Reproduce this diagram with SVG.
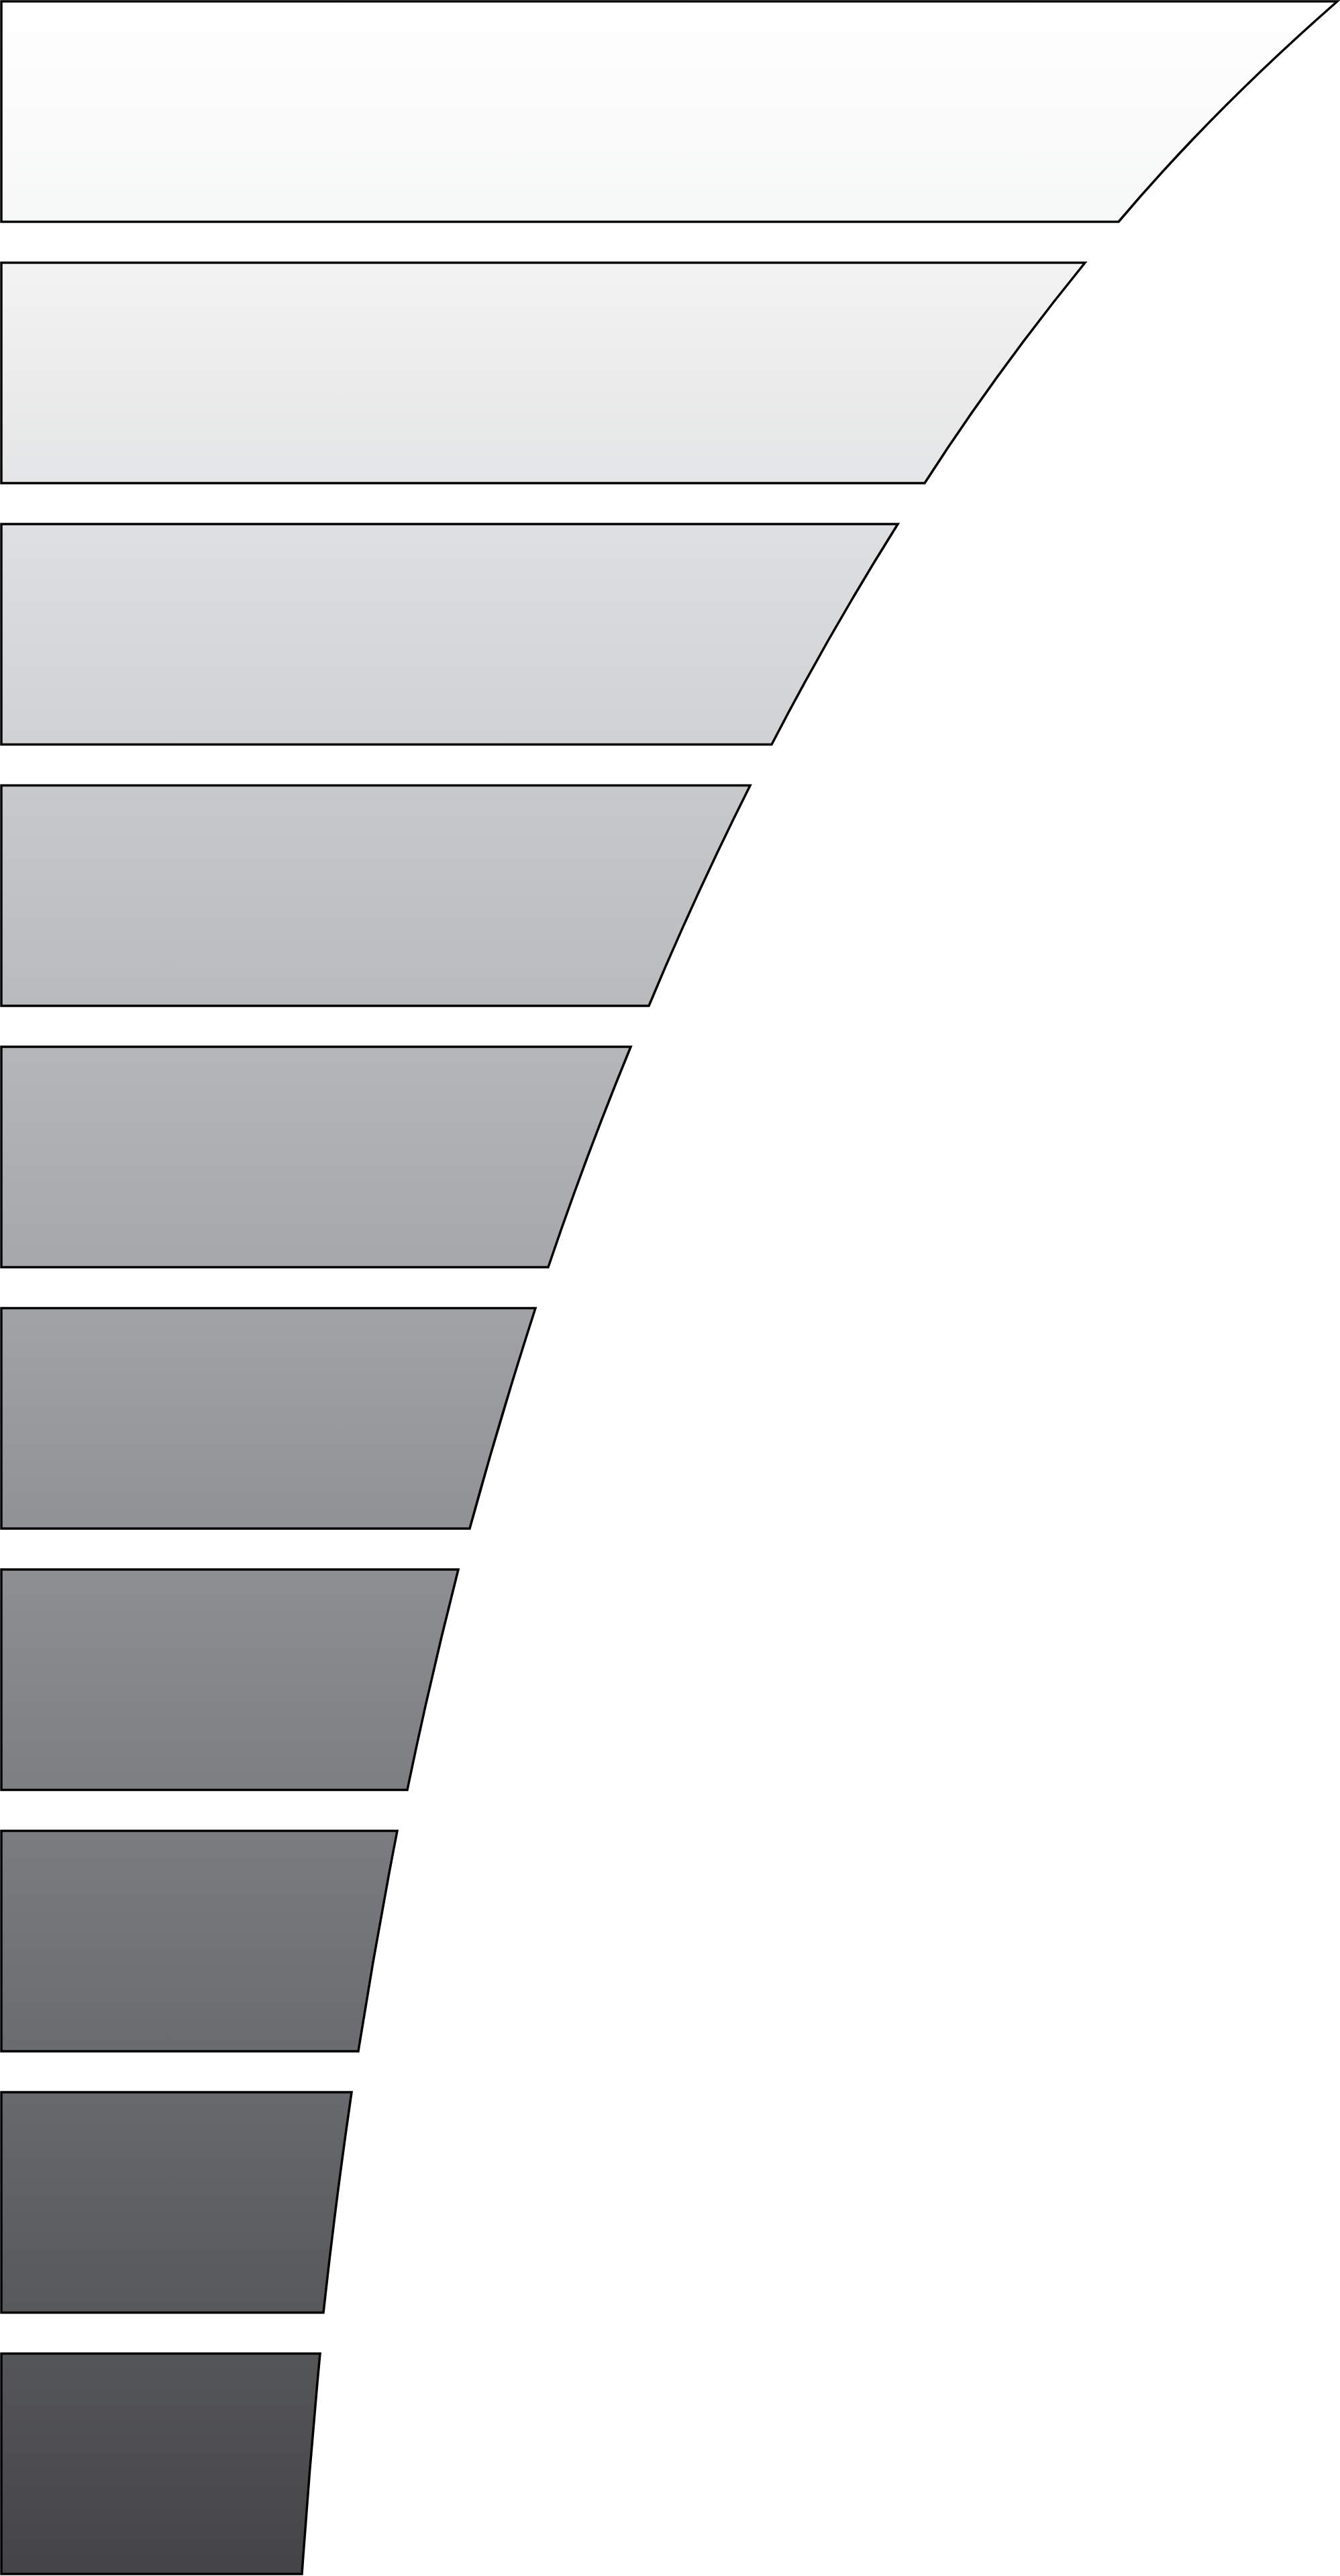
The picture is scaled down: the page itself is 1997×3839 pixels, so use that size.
<svg xmlns="http://www.w3.org/2000/svg" width="1997" height="3839" viewBox="0 0 1997 3839">
<style>
.band{stroke:#000;stroke-width:3.5;stroke-linejoin:miter;stroke-miterlimit:20}
</style>
<defs>
<linearGradient id="g1" x1="0" y1="0" x2="0" y2="1"><stop offset="0" stop-color="#ffffff"/><stop offset="1" stop-color="#f6f7f7"/></linearGradient>
<linearGradient id="g2" x1="0" y1="0" x2="0" y2="1"><stop offset="0" stop-color="#f3f3f3"/><stop offset="1" stop-color="#e4e5e6"/></linearGradient>
<linearGradient id="g3" x1="0" y1="0" x2="0" y2="1"><stop offset="0" stop-color="#dedfe0"/><stop offset="1" stop-color="#d0d1d3"/></linearGradient>
<linearGradient id="g4" x1="0" y1="0" x2="0" y2="1"><stop offset="0" stop-color="#c8c9cb"/><stop offset="1" stop-color="#b9babc"/></linearGradient>
<linearGradient id="g5" x1="0" y1="0" x2="0" y2="1"><stop offset="0" stop-color="#b5b6b8"/><stop offset="1" stop-color="#a6a7aa"/></linearGradient>
<linearGradient id="g6" x1="0" y1="0" x2="0" y2="1"><stop offset="0" stop-color="#a2a3a6"/><stop offset="1" stop-color="#909195"/></linearGradient>
<linearGradient id="g7" x1="0" y1="0" x2="0" y2="1"><stop offset="0" stop-color="#8e8f93"/><stop offset="1" stop-color="#7d7e82"/></linearGradient>
<linearGradient id="g8" x1="0" y1="0" x2="0" y2="1"><stop offset="0" stop-color="#7b7c80"/><stop offset="1" stop-color="#6a6b6e"/></linearGradient>
<linearGradient id="g9" x1="0" y1="0" x2="0" y2="1"><stop offset="0" stop-color="#68696c"/><stop offset="1" stop-color="#575859"/></linearGradient>
<linearGradient id="g10" x1="0" y1="0" x2="0" y2="1"><stop offset="0" stop-color="#555658"/><stop offset="1" stop-color="#444446"/></linearGradient>
</defs>
<rect width="1997" height="3839" fill="#ffffff"/>
<g id="band1"><path class="band" fill="url(#g1)" d="M2,2 H1993 Q1806,166 1667,330.5 H2 Z"/></g>
<g id="band2"><path class="band" fill="url(#g2)" d="M2,391.5 H1617 Q1483.5,555.75 1378,720 H2 Z"/></g>
<g id="band3"><path class="band" fill="url(#g3)" d="M2,781 H1338 Q1235,945.25 1150,1109.5 H2 Z"/></g>
<g id="band4"><path class="band" fill="url(#g4)" d="M2,1170.5 H1118 Q1035.5,1334.75 967,1499 H2 Z"/></g>
<g id="band5"><path class="band" fill="url(#g5)" d="M2,1560 H940 Q872.5,1724.25 817,1888.5 H2 Z"/></g>
<g id="band6"><path class="band" fill="url(#g6)" d="M2,1949.5 H798 Q745,2113.75 700,2278 H2 Z"/></g>
<g id="band7"><path class="band" fill="url(#g7)" d="M2,2339 H683 Q641,2503.25 607,2667.5 H2 Z"/></g>
<g id="band8"><path class="band" fill="url(#g8)" d="M2,2728.5 H592 Q560,2892.75 534,3057 H2 Z"/></g>
<g id="band9"><path class="band" fill="url(#g9)" d="M2,3118 H524 Q500,3282.25 482,3446.5 H2 Z"/></g>
<g id="band10"><path class="band" fill="url(#g10)" d="M2,3507.5 H477 Q461.5,3671.75 450,3836 H2 Z"/></g>
<g id="connectors"></g>
</svg>
